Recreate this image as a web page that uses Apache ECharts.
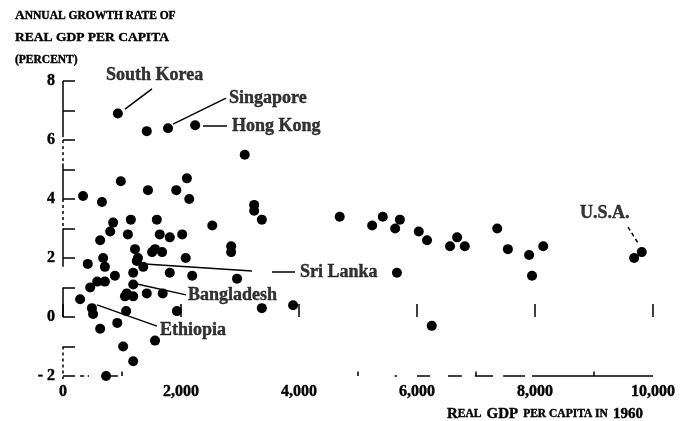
<!DOCTYPE html>
<html>
<head>
<meta charset="utf-8">
<script src="https://cdn.jsdelivr.net/npm/echarts@6/dist/echarts.min.js"></script>
<style>
  html, body { margin: 0; padding: 0; background: #fff; }
  #chart { width: 680px; height: 421px; }
</style>
</head>
<body>
<div id="chart"></div>
<script>
// real GDP per capita in 1960 (dollars)
const gdp1960 = [
  930, 1420, 1780, 2240, 3080, 340, 980, 1440, 1920, 2100, 2140, 660,
  3240, 3240, 3370, 4690, 850, 800, 1150, 1590, 1100, 630, 1640, 1810,
  2020, 2530, 2850, 2850, 1220, 1510, 1560, 1680, 1270, 680, 2080, 420,
  710, 880, 1250, 1360, 1190, 1810, 2190, 2950, 580, 710, 460, 290,
  490, 510, 1190, 1080, 1050, 1190, 1420, 1690, 1930, 1070, 3370, 3900,
  920, 630, 1560, 1020, 1190, 730, 5240, 5420, 5630, 5710, 6030, 6170,
  6680, 6560, 6810, 5660, 7360, 7540, 7900, 8140, 7950, 9810, 9680, 6250
]
// annual growth rate of real GDP per capita (percent)
const growthRate = [
  6.9, 6.3, 6.4, 6.5, 5.5, 4.1, 4.6, 4.3, 4.3, 4.7, 4.0, 3.9,
  3.8, 3.6, 3.3, 3.4, 3.2, 2.9, 3.3, 3.3, 2.8, 2.6, 2.8, 2.7,
  2.8, 3.1, 2.4, 2.2, 2.3, 2.2, 2.3, 2.2, 2.0, 2.0, 2.0, 1.8,
  1.7, 1.4, 1.9, 1.7, 1.5, 1.5, 1.4, 1.3, 1.2, 1.2, 1.0, 0.6,
  0.3, 0.1, 1.1, 0.8, 0.7, 0.7, 0.8, 0.8, 0.2, 0.2, 0.3, 0.4,
  -0.2, -0.4, -0.8, -1.0, -1.5, -2.0, 3.1, 3.4, 3.0, 3.3, 2.9, 2.6,
  2.7, 2.4, 2.4, 1.5, 3.0, 2.3, 2.1, 2.4, 1.4, 2.2, 2.0, -0.3
]

// 国名标注
const labelNames = ['South Korea', 'Singapore', 'Hong Kong', 'Sri Lanka', 'Bangladesh', 'Ethiopia', 'U.S.A.']
const labelX = [729, 2814, 2864, 4017, 2119, 1644, 8763]
const labelY = [8.2, 7.42, 6.47, 1.53, 0.75, -0.44, 3.53]
// leader lines: [x1, y1, x2, y2]
const leaderLines = [
  [1051, 7.05, 1508, 7.73],
  [1864, 6.54, 2763, 7.42],
  [2373, 6.47, 2780, 6.47],
  [1390, 1.80, 3203, 1.56],
  [3542, 1.53, 3932, 1.53],
  [1254, 1.12, 2085, 0.75],
  [576, 0.41, 1593, -0.31]
]
const usaLeader = [[9576, 3.05, 9746, 2.51]]

// broken range frame along the axes
const xFrame = [[290, 360], [420, 440], [750, 930], [5620, 5660], [6000, 6220],
  [6525, 6760], [6980, 7290], [7460, 7830], [7950, 10000]]
const xFrameAt = -2
const xSmallTicks = [1000, 5000, 7000, 9000]
const yFrameSolid = [[8, 6.2], [5.2, 4.0], [3.0, 1.7], [1.0, 0]]
const yFrameDashed = [[6.2, 5.2], [4.0, 3.0], [-1.0, -2.1]]

const xTicks = { min: 0, max: 10000, step: 2000 }
const yTicks = { min: -2, max: 8, step: 1 }

const serif = '"Liberation Serif", "DejaVu Serif", serif'

const fmtThousands = v => String(v).replace(/\B(?=(\d{3})+(?!\d))/g, ',')

// heavier black type, like the printed original
const ink = { color: '#000', textBorderColor: '#000', textBorderWidth: 0.4 }

const chart = echarts.init(document.getElementById('chart'))

const option = {
  animation: false,
  backgroundColor: '#fff',
  title: [
    {
      left: 10,
      top: 0,
      text: '{c|A}{s|NNUAL GROWTH RATE OF}\n{c|REAL GDP PER CAPITA}\n{s|(PERCENT)}',
      textStyle: {
        rich: {
          c: { fontFamily: serif, fontSize: 13.5, fontWeight: 'bold', lineHeight: 22, ...ink },
          s: { fontFamily: serif, fontSize: 11.5, fontWeight: 'bold', lineHeight: 22, ...ink }
        }
      }
    },
    {
      left: 442,
      top: 400,
      text: '{c|R}{s|EAL} {c|GDP} {s|PER CAPITA IN} {c|1960}',
      textStyle: {
        rich: {
          c: { fontFamily: serif, fontSize: 15, fontWeight: 'bold', ...ink },
          s: { fontFamily: serif, fontSize: 11.5, fontWeight: 'bold', ...ink }
        }
      }
    }
  ],
  grid: {
    left: 63,
    right: 27,
    top: 81,
    bottom: 45,
    containLabel: false,
    outerBoundsMode: 'none'
  },
  xAxis: {
    type: 'value',
    min: xTicks.min,
    max: xTicks.max,
    interval: xTicks.step,
    splitLine: { show: false },
    axisLine: { show: false },
    axisTick: { show: true, inside: true, length: 13, lineStyle: { color: '#000', width: 1.5 } },
    axisLabel: {
      margin: 8,
      fontFamily: serif,
      fontSize: 16,
      fontWeight: 'bold',
      ...ink,
      formatter: v => fmtThousands(v)
    }
  },
  yAxis: {
    type: 'value',
    min: yTicks.min,
    max: yTicks.max,
    interval: yTicks.step,
    splitLine: { show: false },
    axisLine: { show: false },
    axisTick: { show: true, inside: true, length: 12, lineStyle: { color: '#000', width: 1.5 } },
    axisLabel: {
      margin: 8,
      fontFamily: serif,
      fontSize: 16,
      fontWeight: 'bold',
      ...ink,
      formatter: v => (v % 2 === 0 ? (v < 0 ? '- ' + Math.abs(v) : String(v)) : '')
    }
  },
  series: [
    {
      type: 'lines',
      coordinateSystem: 'cartesian2d',
      silent: true,
      clip: false,
      lineStyle: { color: '#000', width: 1.5, opacity: 1 },
      data: xFrame.map(s => ({ coords: [[s[0], xFrameAt], [s[1], xFrameAt]] }))
        .concat(xSmallTicks.map(t => ({ coords: [[t, xFrameAt], [t, xFrameAt + 0.15]] })))
        .concat(yFrameSolid.map(s => ({ coords: [[0, s[0]], [0, s[1]]] })))
    },
    {
      type: 'lines',
      coordinateSystem: 'cartesian2d',
      silent: true,
      clip: false,
      lineStyle: { color: '#000', width: 1.5, opacity: 1, type: [3, 3] },
      data: yFrameDashed.map(s => ({ coords: [[0, s[0]], [0, s[1]]] }))
    },
    {
      type: 'lines',
      coordinateSystem: 'cartesian2d',
      silent: true,
      clip: false,
      lineStyle: { color: '#000', width: 1.5, opacity: 1 },
      data: leaderLines.map(s => ({ coords: [[s[0], s[1]], [s[2], s[3]]] }))
    },
    {
      type: 'lines',
      coordinateSystem: 'cartesian2d',
      silent: true,
      clip: false,
      lineStyle: { color: '#000', width: 1.5, opacity: 1, type: [4, 3] },
      data: usaLeader.map(s => ({ coords: [[s[0], s[1]], [s[2], s[3]]] }))
    },
    {
      type: 'scatter',
      clip: false,
      symbol: 'circle',
      symbolSize: 10,
      itemStyle: { color: '#000', opacity: 1 },
      data: gdp1960.map((g, i) => [g, growthRate[i]])
    },
    {
      type: 'scatter',
      clip: false,
      silent: true,
      symbolSize: 0,
      label: {
        show: true,
        position: 'right',
        distance: 0,
        formatter: p => p.name,
        fontFamily: serif,
        fontSize: 18,
        fontWeight: 'bold',
        ...ink
      },
      data: labelNames.map((n, i) => ({ name: n, value: [labelX[i], labelY[i]] }))
    }
  ]
}

chart.setOption(option)
</script>
</body>
</html>
